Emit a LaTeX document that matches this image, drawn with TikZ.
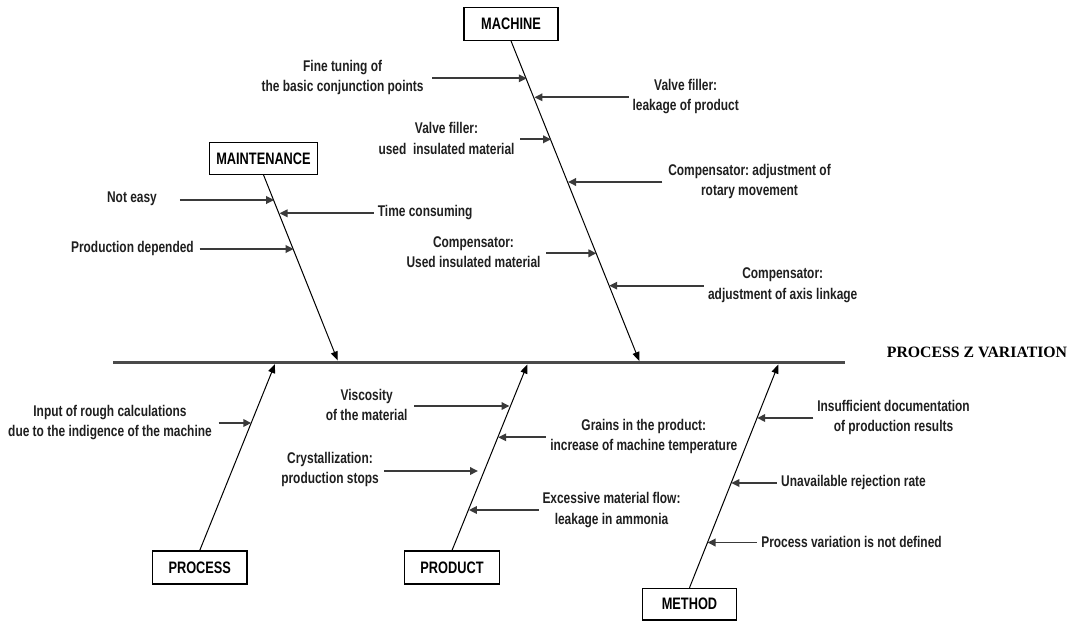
\documentclass[tikz,border=0pt]{standalone}
\usepackage{fontspec}
\usetikzlibrary{arrows.meta}
\newfontfamily\lab{Liberation Sans}[FakeStretch=0.77]
\newfontfamily\ttl{Liberation Serif}
\definecolor{shaft}{HTML}{3A3A3A}
\definecolor{spinec}{HTML}{4A4A4A}
\frenchspacing
\tikzset{
  box/.style={draw=black, line width=1.2pt, fill=white, inner sep=0pt, minimum width=94pt, minimum height=33pt, font=\lab\bfseries\fontsize{16.6}{18}\selectfont},
  lbl/.style={inner sep=0pt, align=center, font=\lab\bfseries\fontsize{15.5}{20.3}\selectfont, text=black!88},
  arr/.style={draw=shaft, line width=1.8pt, -{Triangle[length=8pt,width=7.5pt]}},
  bone/.style={draw=black, line width=1pt, -{Triangle[length=9pt,width=7pt]}},
  spinel/.style={draw=spinec, line width=2.2pt}
}
\begin{document}
\begin{tikzpicture}[x=1pt,y=-1pt]
\useasboundingbox (0,0) rectangle (1075,624);

% spine
\coordinate (sp0) at (113,362.5);
\coordinate (sp1) at (845,362.5);
\draw[spinel] (sp0) -- (sp1);
\node[inner sep=0pt, font=\ttl\bfseries\fontsize{15.8}{18}\selectfont] (effect) at (977,352) {PROCESS Z VARIATION};

% category boxes
\node[box] (machine) at (511,23.8) {MACHINE};
\node[box, minimum width=108.4pt, minimum height=32pt] (maint) at (263.5,158.3) {MAINTENANCE};
\node[box, minimum width=94.5pt] (process) at (199.75,567.5) {PROCESS};
\node[box, minimum width=94.7pt] (product) at (452,567.5) {PRODUCT};
\node[box, minimum height=31.7pt] (method) at (689.5,604.2) {METHOD};

% bone tips on the spine
\coordinate (tmach) at (639.3,361);
\coordinate (tmaint) at (337.7,360.5);
\coordinate (tproc) at (275,364);
\coordinate (tprod) at (527.3,364.5);
\coordinate (tmeth) at (778.3,364.5);

\draw[bone] (machine.south) -- (tmach);
\draw[bone] (maint.south) -- (tmaint);
\draw[bone] (process.north) -- (tproc);
\draw[bone] (product.north) -- (tprod);
\draw[bone] (method.north) -- (tmeth);

% ---- MACHINE causes
\node[lbl] (m1) at (342.6,77.5) {Fine tuning of\\the basic conjunction points};
\coordinate (m1s) at (432.2,78.3); \coordinate (m1t) at (526.8,78.3);
\draw[arr] (m1s) -- (m1t);

\node[lbl] (m2) at (685.7,96.7) {Valve filler:\\leakage of product};
\coordinate (m2s) at (628.7,97.3); \coordinate (m2t) at (534.4,97.3);
\draw[arr] (m2s) -- (m2t);

\node[lbl] (m3) at (446.5,138.5) {Valve filler:\\used\ \ insulated material};
\coordinate (m3s) at (520,139.3); \coordinate (m3t) at (551.1,139.3);
\draw[arr] (m3s) -- (m3t);

\node[lbl] (m4) at (749.5,181.3) {Compensator: adjustment of\\rotary movement};
\coordinate (m4s) at (662.4,182); \coordinate (m4t) at (568,182);
\draw[arr] (m4s) -- (m4t);

\node[lbl] (m5) at (473.5,252.5) {Compensator:\\Used insulated material};
\coordinate (m5s) at (546.3,253.3); \coordinate (m5t) at (596.4,253.3);
\draw[arr] (m5s) -- (m5t);

\node[lbl] (m6) at (782.7,285.2) {Compensator:\\adjustment of axis linkage};
\coordinate (m6s) at (703.8,285.7); \coordinate (m6t) at (609.2,285.7);
\draw[arr] (m6s) -- (m6t);

% ---- MAINTENANCE causes
\node[lbl] (a1) at (132,199) {Not easy};
\coordinate (a1s) at (179.8,200); \coordinate (a1t) at (274.2,200);
\draw[arr] (a1s) -- (a1t);

\node[lbl, anchor=west] (a2) at (377.7,212.5) {Time consuming};
\coordinate (a2s) at (373.6,213.3); \coordinate (a2t) at (279.5,213.3);
\draw[arr] (a2s) -- (a2t);

\node[lbl] (a3) at (132.4,248.3) {Production depended};
\coordinate (a3s) at (199.7,249); \coordinate (a3t) at (293.7,249);
\draw[arr] (a3s) -- (a3t);

% ---- PROCESS causes
\node[lbl] (p1) at (110,422.5) {Input of rough calculations\\due to the indigence of the machine};
\coordinate (p1s) at (218.5,423); \coordinate (p1t) at (251.3,423);
\draw[arr] (p1s) -- (p1t);

% ---- PRODUCT causes
\node[lbl] (r1) at (366.7,405.3) {Viscosity\\of the material};
\coordinate (r1s) at (414.3,406); \coordinate (r1t) at (509.5,406);
\draw[arr] (r1s) -- (r1t);

\node[lbl] (r2) at (643.8,436.7) {Grains in the product:\\increase of machine temperature};
\coordinate (r2s) at (545.6,437.3); \coordinate (r2t) at (498.2,437.3);
\draw[arr] (r2s) -- (r2t);

\node[lbl] (r3) at (330,469.7) {Crystallization:\\production stops};
\coordinate (r3s) at (384,471); \coordinate (r3t) at (478,471);
\draw[arr] (r3s) -- (r3t);

\node[lbl] (r4) at (611.5,510) {Excessive material flow:\\leakage in ammonia};
\coordinate (r4s) at (538.7,510); \coordinate (r4t) at (468.9,510);
\draw[arr] (r4s) -- (r4t);

% ---- METHOD causes
\node[lbl] (d1) at (893.5,417.3) {Insufficient documentation\\of production results};
\coordinate (d1s) at (813.3,418); \coordinate (d1t) at (757.2,418);
\draw[arr] (d1s) -- (d1t);

\node[lbl, anchor=west] (d2) at (781,482.7) {Unavailable rejection rate};
\coordinate (d2s) at (776.8,483); \coordinate (d2t) at (731.3,483);
\draw[arr] (d2s) -- (d2t);

\node[lbl, anchor=west] (d3) at (761.1,541.7) {Process variation is not defined};
\coordinate (d3s) at (756.6,542.5); \coordinate (d3t) at (707.5,542.5);
\draw[arr] (d3s) -- (d3t);
\end{tikzpicture}
\end{document}
